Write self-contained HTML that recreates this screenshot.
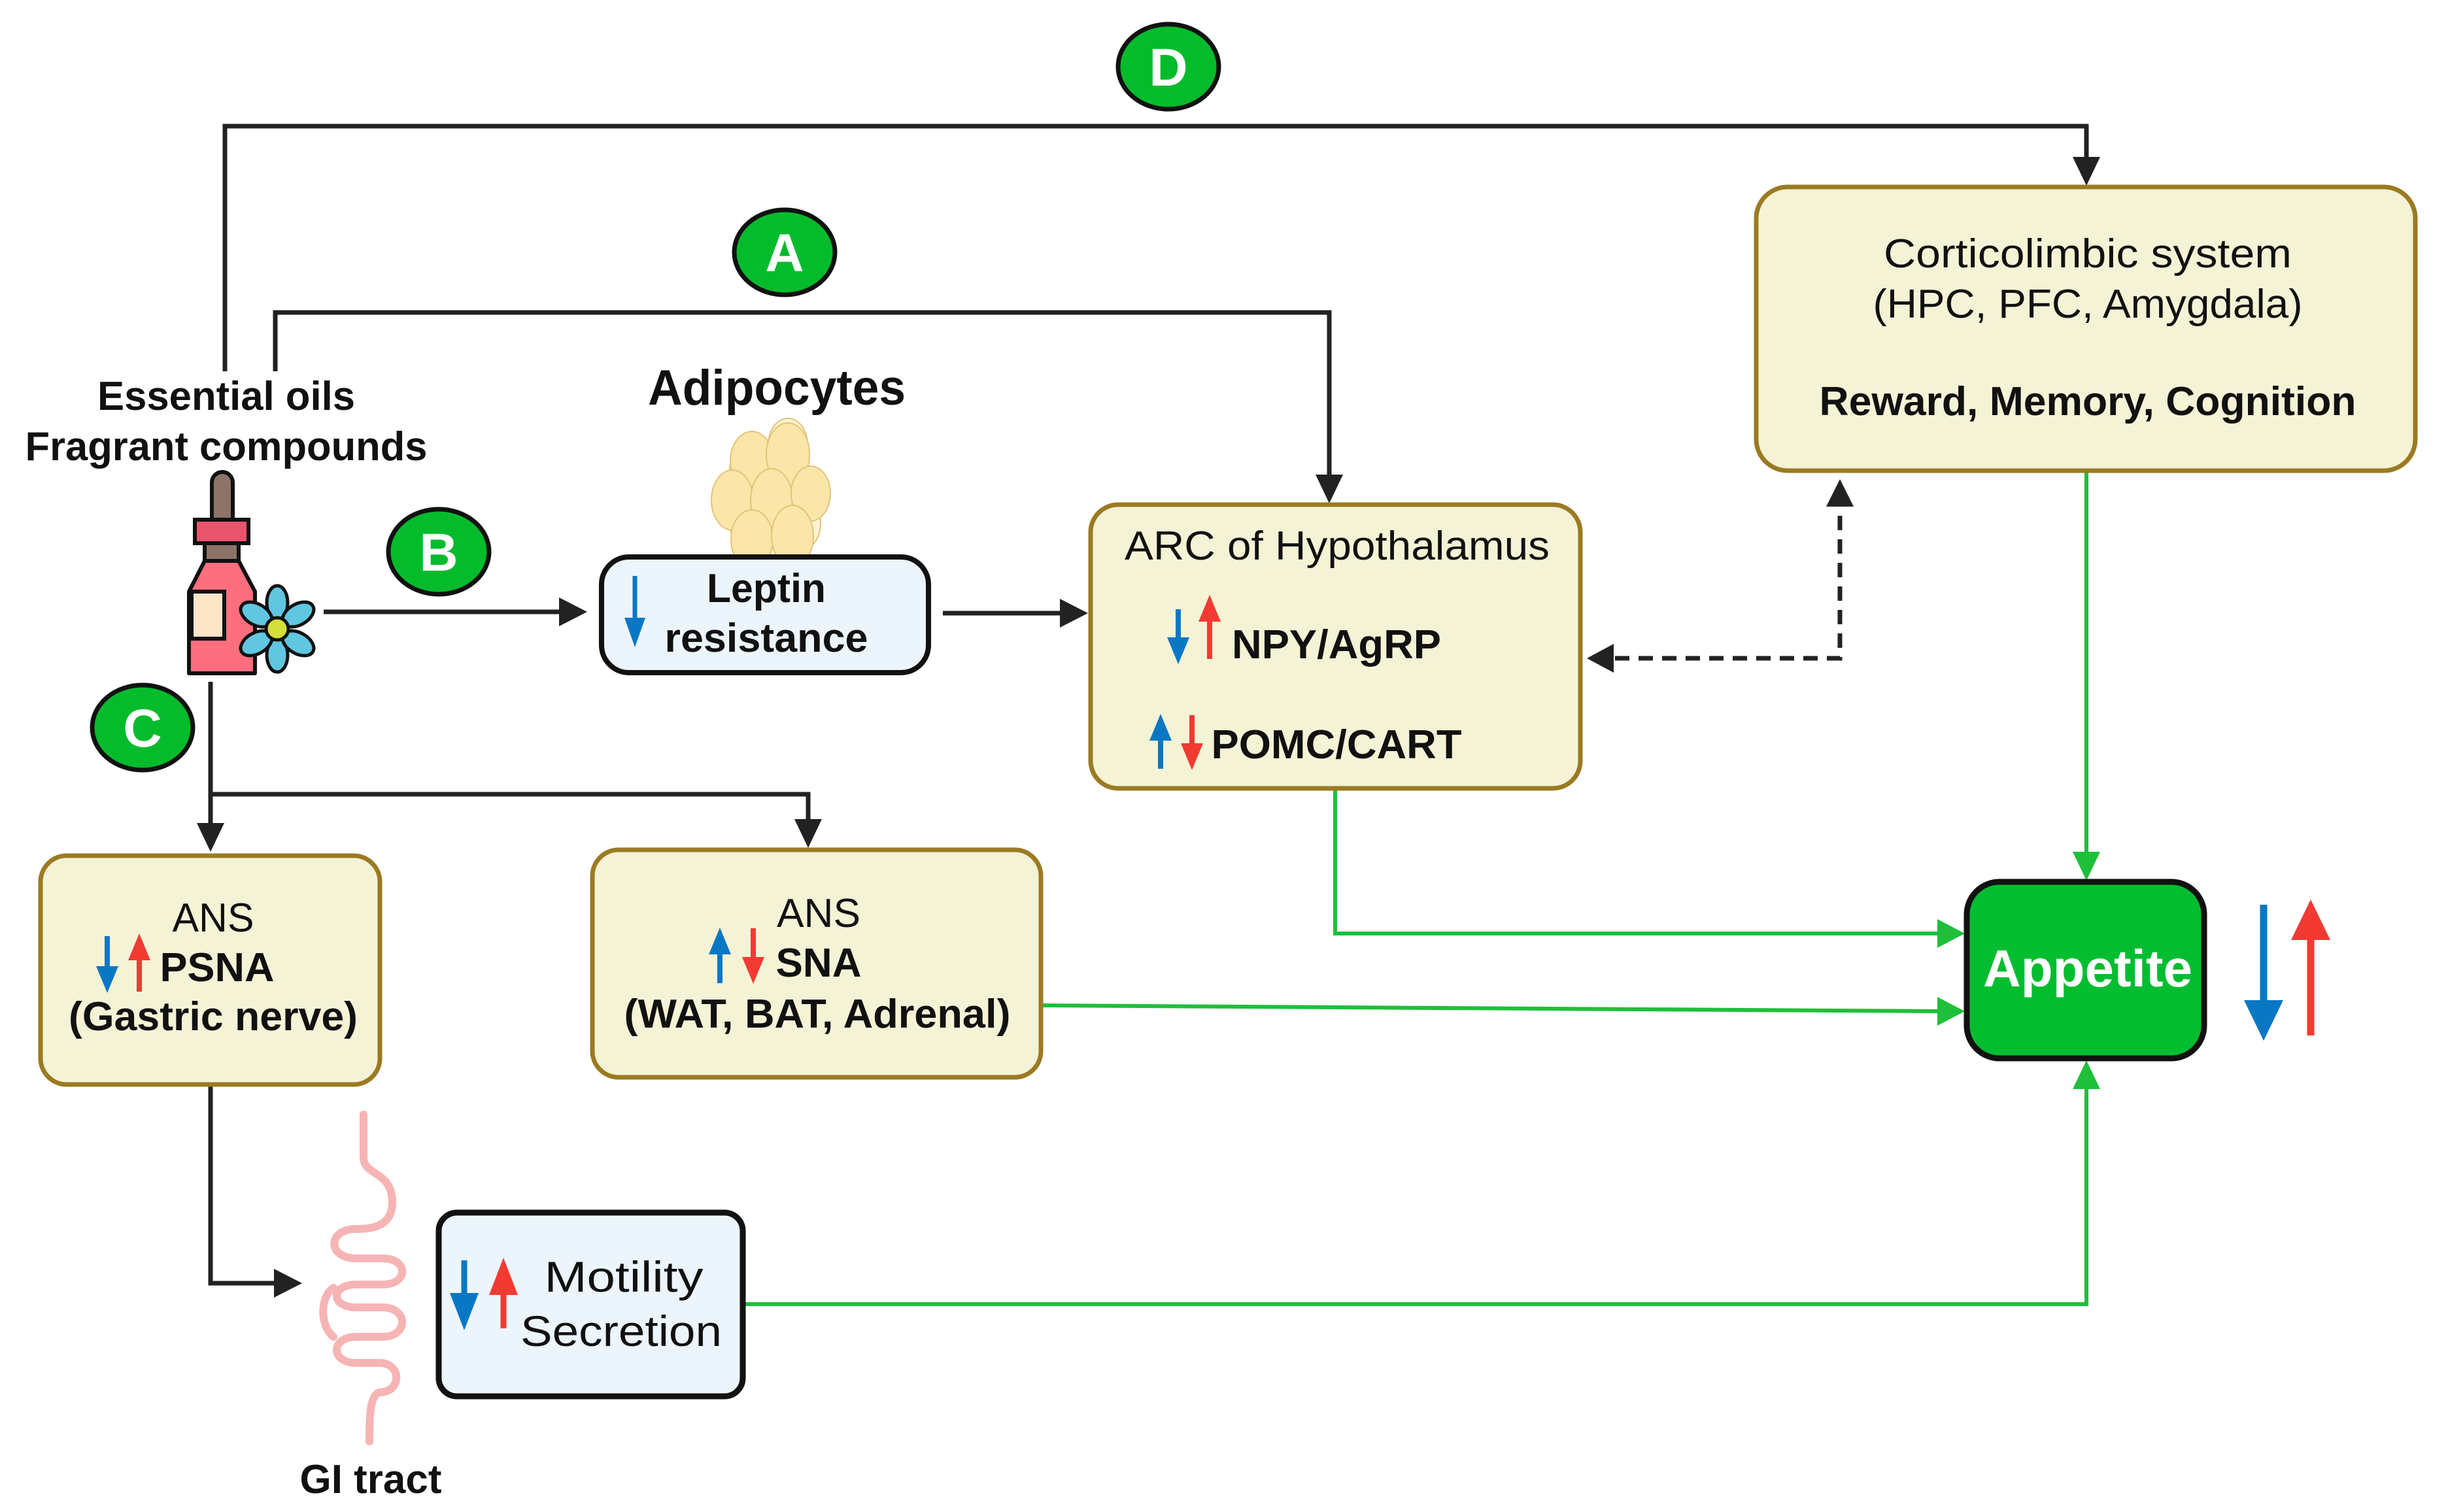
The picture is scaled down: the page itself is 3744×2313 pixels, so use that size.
<!DOCTYPE html>
<html><head><meta charset="utf-8"><style>
html,body{margin:0;padding:0;background:#fff;}
svg{display:block}
text{font-family:"Liberation Sans",sans-serif;}
</style></head><body>
<svg width="3744" height="2313" viewBox="0 0 3744 2313" xmlns="http://www.w3.org/2000/svg">
<rect width="3744" height="2313" fill="#fff"/>
<g stroke="#222" stroke-width="7" fill="none">
<polyline points="344,568 344,193 3191,193 3191,245"/>
<polyline points="421,568 421,478 2033,478 2033,732"/>
<line x1="495" y1="936" x2="860" y2="936"/>
<line x1="1442" y1="938" x2="1625" y2="938"/>
<polyline points="322,1043 322,1265"/>
<polyline points="322,1215 1236,1215 1236,1258"/>
<polyline points="322,1661 322,1963 425,1963"/>
</g>
<g fill="#222">
<polygon points="3191,284 3170,240 3212,240"/>
<polygon points="2033,770 2012,726 2054,726"/>
<polygon points="898,936 855,914 855,958"/>
<polygon points="1664,938 1621,916 1621,960"/>
<polygon points="322,1303 301,1259 343,1259"/>
<polygon points="1236,1297 1215,1253 1257,1253"/>
<polygon points="462,1963 419,1941 419,1985"/>
<polygon points="2427,1007 2468,985 2468,1029"/>
<polygon points="2814,733 2793,775 2835,775"/>
</g>
<polyline points="2470,1007 2814,1007 2814,775" stroke="#222" stroke-width="7" fill="none" stroke-dasharray="22,14"/>
<g stroke="#1fbf3a" stroke-width="6" fill="none">
<line x1="3191" y1="722" x2="3191" y2="1310"/>
<polyline points="2042,1208 2042,1428 2970,1428"/>
<line x1="1594" y1="1538" x2="2970" y2="1547"/>
<polyline points="1138,1995 3191,1995 3191,1658"/>
</g>
<g fill="#1fbf3a">
<polygon points="3191,1347 3170,1303 3212,1303"/>
<polygon points="3005,1428 2963,1406 2963,1450"/>
<polygon points="3005,1547 2963,1525 2963,1569"/>
<polygon points="3191,1622 3170,1666 3212,1666"/>
</g>
<g stroke="#111" stroke-width="7" fill="#04bb2c">
<ellipse cx="1787" cy="102" rx="77" ry="65"/>
<ellipse cx="1200" cy="386" rx="77" ry="65"/>
<ellipse cx="671" cy="844" rx="77" ry="65"/>
<ellipse cx="218" cy="1113" rx="77" ry="65"/>
</g>
<g fill="#fff" font-weight="bold" font-size="82" text-anchor="middle">
<text x="1787" y="131">D</text>
<text x="1200" y="415">A</text>
<text x="671" y="873">B</text>
<text x="218" y="1142">C</text>
</g>
<g font-weight="bold" fill="#111">
<text x="346" y="627" font-size="62" text-anchor="middle" textLength="394" lengthAdjust="spacingAndGlyphs">Essential oils</text>
<text x="346" y="704" font-size="62" text-anchor="middle" textLength="615" lengthAdjust="spacingAndGlyphs">Fragrant compounds</text>
<text x="1188" y="619" font-size="76" text-anchor="middle" textLength="394" lengthAdjust="spacingAndGlyphs">Adipocytes</text>
<text x="567" y="2284" font-size="62" text-anchor="middle" textLength="217" lengthAdjust="spacingAndGlyphs">GI tract</text>
</g>
<g stroke="#e0c47a" stroke-width="2">
<ellipse cx="1150" cy="720" rx="34" ry="44" fill="#fdf3d4"/>
<ellipse cx="1205" cy="680" rx="30" ry="40" fill="#fdf3d4"/>
<ellipse cx="1150" cy="800" rx="34" ry="42" fill="#fdf3d4"/>
<ellipse cx="1225" cy="800" rx="30" ry="42" fill="#fdf3d4"/>
<ellipse cx="1195" cy="835" rx="30" ry="30" fill="#fdf3d4"/>
<ellipse cx="1150" cy="705" rx="33" ry="45" fill="#fbe5a8"/>
<ellipse cx="1205" cy="695" rx="33" ry="48" fill="#fbe5a8"/>
<ellipse cx="1120" cy="765" rx="32" ry="46" fill="#fbe5a8"/>
<ellipse cx="1180" cy="765" rx="32" ry="48" fill="#fbe5a8"/>
<ellipse cx="1240" cy="755" rx="30" ry="42" fill="#fbe5a8"/>
<ellipse cx="1150" cy="825" rx="32" ry="45" fill="#fbe5a8"/>
<ellipse cx="1212" cy="820" rx="32" ry="47" fill="#fbe5a8"/>
</g>
<g stroke="#111" stroke-width="6">
<rect x="324" y="722" width="32" height="90" rx="16" fill="#8c7468"/>
<rect x="313" y="826" width="52" height="34" fill="#8c7468"/>
<rect x="298" y="795" width="82" height="36" fill="#e8546c"/>
<path d="M313,858 L365,858 L390,905 L390,1030 L289,1030 L289,905 Z" fill="#fd6e7e" stroke-linejoin="round"/>
<rect x="293" y="905" width="50" height="72" fill="#fde5c8"/>
</g>
<g stroke="#111" stroke-width="5" fill="#61c6e0">
<ellipse cx="424" cy="922" rx="16" ry="26"/>
<ellipse cx="424" cy="1002" rx="16" ry="26"/>
<ellipse cx="392" cy="940" rx="16" ry="26" transform="rotate(-60 392 940)"/>
<ellipse cx="456" cy="940" rx="16" ry="26" transform="rotate(60 456 940)"/>
<ellipse cx="392" cy="984" rx="16" ry="26" transform="rotate(60 392 984)"/>
<ellipse cx="456" cy="984" rx="16" ry="26" transform="rotate(-60 456 984)"/>
<circle cx="424" cy="962" r="17" fill="#d4df3c"/>
</g>
<g fill="none" stroke="#f7b4b4" stroke-width="12" stroke-linecap="round">
<path d="M556,1705 L556,1770 C556,1800 600,1790 600,1840 C600,1880 560,1880 545,1880 C500,1880 500,1925 545,1925 L585,1925 C625,1925 625,1965 585,1965 L545,1965 C505,1965 505,2000 545,2000 L585,2000 C625,2000 625,2045 585,2045 L545,2045 C505,2045 505,2085 545,2085 L580,2085 C615,2085 615,2130 580,2130 C565,2135 565,2170 565,2205"/>
<path d="M510,1970 C488,1985 490,2030 510,2045"/>
</g>
<rect x="920" y="852" width="500" height="177" rx="42" fill="#ecf4fc" stroke="#111" stroke-width="8"/>
<line x1="971" y1="881" x2="971" y2="950" stroke="#0978c4" stroke-width="7"/>
<polygon points="971,990 955,945 987,945" fill="#0978c4"/>
<g font-weight="bold" fill="#111" font-size="62" text-anchor="middle">
<text x="1172" y="921" textLength="182" lengthAdjust="spacingAndGlyphs">Leptin</text>
<text x="1172" y="997" textLength="311" lengthAdjust="spacingAndGlyphs">resistance</text>
</g>
<g fill="#f5f3d6" stroke="#9b7a22" stroke-width="7">
<rect x="2686" y="286" width="1008" height="434" rx="48"/>
<rect x="1668" y="772" width="749" height="434" rx="42"/>
<rect x="62" y="1309" width="519" height="350" rx="40"/>
<rect x="906" y="1300" width="686" height="348" rx="40"/>
</g>
<g fill="#111" font-size="62" text-anchor="middle">
<text x="3193" y="409" textLength="624" lengthAdjust="spacingAndGlyphs">Corticolimbic system</text>
<text x="3193" y="486" textLength="657" lengthAdjust="spacingAndGlyphs">(HPC, PFC, Amygdala)</text>
<text x="3193" y="635" font-weight="bold" textLength="821" lengthAdjust="spacingAndGlyphs">Reward, Memory, Cognition</text>
<text x="2045" y="856" textLength="650" lengthAdjust="spacingAndGlyphs">ARC of Hypothalamus</text>
<text x="2044" y="1007" font-weight="bold" textLength="320" lengthAdjust="spacingAndGlyphs">NPY/AgRP</text>
<text x="2044" y="1160" font-weight="bold" textLength="383" lengthAdjust="spacingAndGlyphs">POMC/CART</text>
<text x="326" y="1425" textLength="125" lengthAdjust="spacingAndGlyphs">ANS</text>
<text x="332" y="1501" font-weight="bold" textLength="175" lengthAdjust="spacingAndGlyphs">PSNA</text>
<text x="326" y="1576" font-weight="bold" textLength="442" lengthAdjust="spacingAndGlyphs">(Gastric nerve)</text>
<text x="1252" y="1418" textLength="128" lengthAdjust="spacingAndGlyphs">ANS</text>
<text x="1252" y="1494" font-weight="bold" textLength="131" lengthAdjust="spacingAndGlyphs">SNA</text>
<text x="1250" y="1572" font-weight="bold" textLength="591" lengthAdjust="spacingAndGlyphs">(WAT, BAT, Adrenal)</text>
</g>
<g stroke-width="8">
<line x1="1802" y1="932" x2="1802" y2="985" stroke="#0978c4"/><polygon points="1802,1016 1785,975 1819,975" fill="#0978c4"/>
<line x1="1850" y1="945" x2="1850" y2="1008" stroke="#f23a32"/><polygon points="1850,910 1833,951 1867,951" fill="#f23a32"/>
<line x1="1775" y1="1125" x2="1775" y2="1176" stroke="#0978c4"/><polygon points="1775,1092 1758,1133 1792,1133" fill="#0978c4"/>
<line x1="1823" y1="1094" x2="1823" y2="1145" stroke="#f23a32"/><polygon points="1823,1178 1806,1137 1840,1137" fill="#f23a32"/>
<line x1="164" y1="1432" x2="164" y2="1485" stroke="#0978c4"/><polygon points="164,1519 147,1478 181,1478" fill="#0978c4"/>
<line x1="213" y1="1464" x2="213" y2="1517" stroke="#f23a32"/><polygon points="213,1428 196,1469 230,1469" fill="#f23a32"/>
<line x1="1101" y1="1455" x2="1101" y2="1504" stroke="#0978c4"/><polygon points="1101,1419 1084,1460 1118,1460" fill="#0978c4"/>
<line x1="1152" y1="1420" x2="1152" y2="1470" stroke="#f23a32"/><polygon points="1152,1505 1135,1464 1169,1464" fill="#f23a32"/>
</g>
<rect x="671" y="1855" width="465" height="281" rx="28" fill="#ecf4fc" stroke="#111" stroke-width="9"/>
<g stroke-width="9">
<line x1="710" y1="1928" x2="710" y2="1985" stroke="#0978c4"/><polygon points="710,2035 688,1978 732,1978" fill="#0978c4"/>
<line x1="770" y1="1978" x2="770" y2="2032" stroke="#f23a32"/><polygon points="770,1924 748,1981 792,1981" fill="#f23a32"/>
</g>
<g fill="#111" font-size="66" text-anchor="middle">
<text x="954" y="1976" textLength="243" lengthAdjust="spacingAndGlyphs">Motility</text>
<text x="950" y="2059" textLength="308" lengthAdjust="spacingAndGlyphs">Secretion</text>
</g>
<rect x="3008" y="1349" width="363" height="270" rx="50" fill="#02bd30" stroke="#111" stroke-width="9"/>
<text x="3193" y="1509" fill="#fff" font-weight="bold" font-size="80" text-anchor="middle" textLength="320" lengthAdjust="spacingAndGlyphs">Appetite</text>
<line x1="3462" y1="1384" x2="3462" y2="1540" stroke="#0978c4" stroke-width="11"/>
<polygon points="3462,1592 3432,1530 3492,1530" fill="#0978c4"/>
<line x1="3534" y1="1430" x2="3534" y2="1584" stroke="#f23a32" stroke-width="11"/>
<polygon points="3534,1376 3504,1438 3564,1438" fill="#f23a32"/>
</svg>
</body></html>
